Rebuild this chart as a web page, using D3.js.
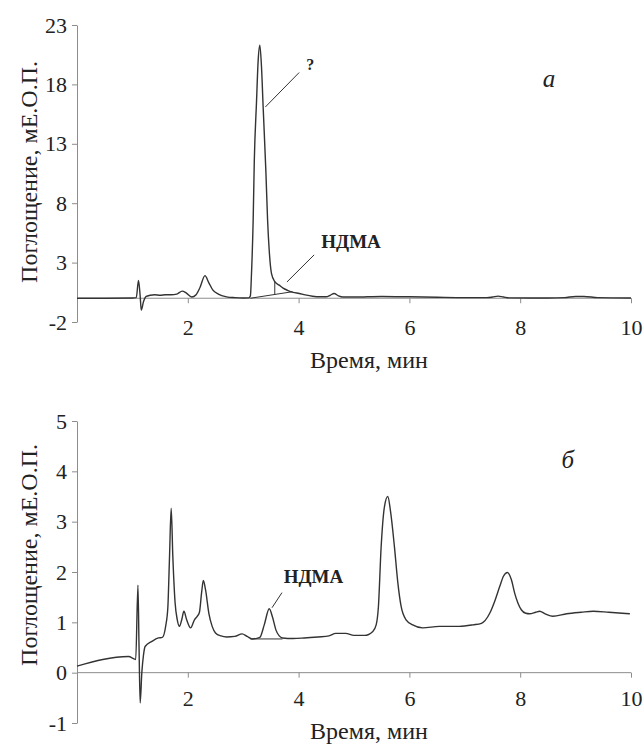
<!DOCTYPE html>
<html>
<head>
<meta charset="utf-8">
<script src="https://cdn.jsdelivr.net/npm/d3@7"></script>
<style>
  body { margin: 0; background: #fff; }
  svg { display: block; }
</style>
</head>
<body>
<svg id="chart" width="643" height="745"></svg>
<script>
// Panel a: retention time (min) and absorbance (mAU)
var timeA = [0, 0.5, 1.0, 1.07, 1.11, 1.14, 1.16, 1.2, 1.25, 1.32, 1.4, 1.5, 1.6, 1.7, 1.8, 1.9, 1.97,
  2.07, 2.15, 2.22, 2.31, 2.38, 2.45, 2.55, 2.7, 2.85, 3.0, 3.1, 3.13, 3.15, 3.18, 3.2, 3.24, 3.27,
  3.3, 3.33, 3.36, 3.41, 3.44, 3.47, 3.51, 3.57, 3.65, 3.72, 3.8, 3.9, 4.01, 4.12, 4.25, 4.4, 4.5,
  4.57, 4.64, 4.72, 4.8, 5.0, 5.5, 6.0, 6.5, 7.0, 7.4, 7.5, 7.6, 7.7, 7.8, 8.5, 8.8, 9.0, 9.15,
  9.4, 10];
var valA = [0, 0, 0.02, 0.05, 1.5, 0.2, -1.0, -0.3, 0.15, 0.25, 0.3, 0.25, 0.3, 0.3, 0.35, 0.6, 0.45,
  0.1, 0.3, 0.9, 1.9, 1.3, 0.7, 0.35, 0.12, 0.05, 0.02, 0.03, 0.2, 2.1, 6.6, 11.5, 16.5, 20.0,
  21.3, 19.5, 16.1, 10.6, 6.6, 4.0, 2.1, 1.4, 1.1, 0.85, 0.67, 0.5, 0.4, 0.28, 0.17, 0.12, 0.12,
  0.25, 0.4, 0.2, 0.1, 0.1, 0.15, 0.12, 0.08, 0.05, 0.05, 0.1, 0.18, 0.1, 0.03, 0.02, 0.05, 0.15, 0.15,
  0.05, 0.02];

// Panel б
var timeB = [0, 0.93, 1.02, 1.06, 1.1, 1.12, 1.14, 1.17, 1.2, 1.23, 1.35, 1.47, 1.54, 1.6, 1.64, 1.67,
  1.7, 1.73, 1.77, 1.81, 1.85, 1.89, 1.93, 1.98, 2.05, 2.12, 2.17, 2.21, 2.25, 2.28, 2.32, 2.38,
  2.44, 2.5, 2.6, 2.7, 2.85, 2.98, 3.07, 3.16, 3.3, 3.38, 3.47, 3.53, 3.59, 3.65, 3.71, 3.9, 4.1,
  4.35, 4.55, 4.67, 4.85, 5.0, 5.19, 5.34, 5.4, 5.44, 5.49, 5.55, 5.61, 5.66, 5.73, 5.79, 5.85,
  5.94, 6.06, 6.24, 6.54, 6.9, 7.15, 7.3, 7.45, 7.55, 7.63, 7.7, 7.77, 7.84, 7.9, 7.96, 8.02, 8.1,
  8.17, 8.28, 8.35, 8.45, 8.59, 8.84, 9.1, 9.32, 9.6, 9.98];
var valB = [0.13, 0.32, 0.28, 0.26, 1.74, 0.5, -0.6, 0.0, 0.35, 0.52, 0.62, 0.69, 0.7, 0.92, 1.3, 2.3,
  3.27, 2.3, 1.4, 1.05, 0.92, 1.05, 1.22, 1.05, 0.89, 1.05, 1.12, 1.2, 1.6, 1.83, 1.65, 1.18,
  0.92, 0.79, 0.73, 0.71, 0.72, 0.77, 0.72, 0.67, 0.7, 0.95, 1.27, 1.1, 0.85, 0.73, 0.69, 0.68, 0.69,
  0.71, 0.73, 0.78, 0.78, 0.74, 0.74, 0.82, 0.95, 1.3, 2.5, 3.3, 3.5, 3.2, 2.5, 1.8, 1.32,
  1.05, 0.95, 0.89, 0.92, 0.92, 0.95, 0.98, 1.18, 1.45, 1.71, 1.92, 1.99, 1.85, 1.58, 1.38, 1.25, 1.18,
  1.17, 1.2, 1.22, 1.17, 1.12, 1.17, 1.2, 1.22, 1.2, 1.17];

var xTicks = [2, 4, 6, 8, 10];
var yTicksA = [-2, 3, 8, 13, 18, 23];
var yTicksB = [-1, 0, 1, 2, 3, 4, 5];

// integration baselines and drop line: [t1, v1, t2, v2]
var markA = [[3.13, 0, 3.89, 0.55], [3.57, 0.32, 3.57, 1.4]];
var markB = [[3.13, 0.67, 3.71, 0.67]];

// labels with leader lines: text, text pos (t, v), leader [t1, v1, t2, v2]
var notesA = [
  {text: "?", t: 4.14, v: 19.2, lead: [3.4, 16.1, 4.01, 19.0]},
  {text: "НДМА", t: 4.41, v: 4.2, lead: [3.79, 1.37, 4.28, 3.65]}
];
var notesB = [
  {text: "НДМА", t: 3.73, v: 1.79, lead: [3.52, 1.29, 3.7, 1.59]}
];

var serif = "'Liberation Serif', 'Times New Roman', serif";
var svg = d3.select("#chart");

function drawPanel(p) {
  var x = d3.scaleLinear().domain([0, 10]).range([77, 631]);
  var y = d3.scaleLinear().domain(p.yDomain).range(p.yRange);
  var g = svg.append("g");
  var fmt = function(d) { return String(d); };

  // x axis sits at zero
  var xAxis = g.append("g")
      .attr("transform", "translate(0," + y(0) + ")")
      .call(d3.axisBottom(x).tickValues(xTicks).tickSize(5).tickPadding(p.xPad).tickFormat(fmt));
  xAxis.attr("font-family", serif).attr("font-size", 22);
  xAxis.select(".domain").attr("stroke", "#8c8c8c").attr("d", "M77,0H631");
  xAxis.selectAll(".tick line").attr("stroke", "#8c8c8c");
  xAxis.selectAll(".tick text").attr("fill", "#222");

  var yAxis = g.append("g")
      .attr("transform", "translate(77,0)")
      .call(d3.axisLeft(y).tickValues(p.yTicks).tickSize(5).tickPadding(5).tickSizeOuter(0).tickFormat(fmt));
  yAxis.attr("font-family", serif).attr("font-size", 22);
  yAxis.select(".domain").attr("stroke", "#8c8c8c");
  yAxis.selectAll(".tick line").attr("stroke", "#8c8c8c");
  yAxis.selectAll(".tick text").attr("fill", "#222");

  var line = d3.line()
      .x(function(d) { return x(d[0]); })
      .y(function(d) { return y(d[1]); })
      .curve(d3.curveMonotoneX);
  var pts = p.time.map(function(t, i) { return [t, p.val[i]]; });

  p.marks.forEach(function(m) {
    g.append("line")
        .attr("x1", x(m[0])).attr("y1", y(m[1]))
        .attr("x2", x(m[2])).attr("y2", y(m[3]))
        .attr("stroke", "#333").attr("stroke-width", 1);
  });

  g.append("path")
      .datum(pts)
      .attr("d", line)
      .attr("fill", "none")
      .attr("stroke", "#333")
      .attr("stroke-width", 1.4)
      .attr("stroke-linejoin", "round");

  p.notes.forEach(function(n) {
    g.append("line")
        .attr("x1", x(n.lead[0])).attr("y1", y(n.lead[1]))
        .attr("x2", x(n.lead[2])).attr("y2", y(n.lead[3]))
        .attr("stroke", "#333").attr("stroke-width", 1);
    g.append("text")
        .attr("x", x(n.t)).attr("y", y(n.v))
        .attr("font-family", serif)
        .attr("font-size", n.text == "?" ? 16 : 19)
        .attr("font-weight", "bold")
        .attr("fill", "#222")
        .text(n.text);
  });

  // panel letter
  g.append("text")
      .attr("x", x(p.letter.t)).attr("y", y(p.letter.v))
      .attr("text-anchor", "middle")
      .attr("font-family", serif)
      .attr("font-size", 25).attr("font-style", "italic")
      .attr("fill", "#222")
      .text(p.letter.text);

  // axis titles
  g.append("text")
      .attr("x", 369).attr("y", p.xTitleY)
      .attr("text-anchor", "middle")
      .attr("font-family", serif).attr("font-size", 24).attr("fill", "#222")
      .text("Время, мин");
  g.append("text")
      .attr("transform", "translate(37," + p.yTitleMid + ") rotate(-90)")
      .attr("text-anchor", "middle")
      .attr("font-family", serif).attr("font-size", 24).attr("fill", "#222")
      .text("Поглощение, мЕ.О.П.");
}

drawPanel({
  time: timeA, val: valA, yDomain: [-2, 23], yRange: [322, 25], yTicks: yTicksA,
  marks: markA, notes: notesA, xPad: 16, xTitleY: 368, yTitleMid: 172,
  letter: {text: "а", t: 8.52, v: 17.8}
});
drawPanel({
  time: timeB, val: valB, yDomain: [-1, 5], yRange: [723, 421], yTicks: yTicksB,
  marks: markB, notes: notesB, xPad: 13, xTitleY: 739, yTitleMid: 555,
  letter: {text: "б", t: 8.86, v: 4.07}
});
</script>
</body>
</html>
